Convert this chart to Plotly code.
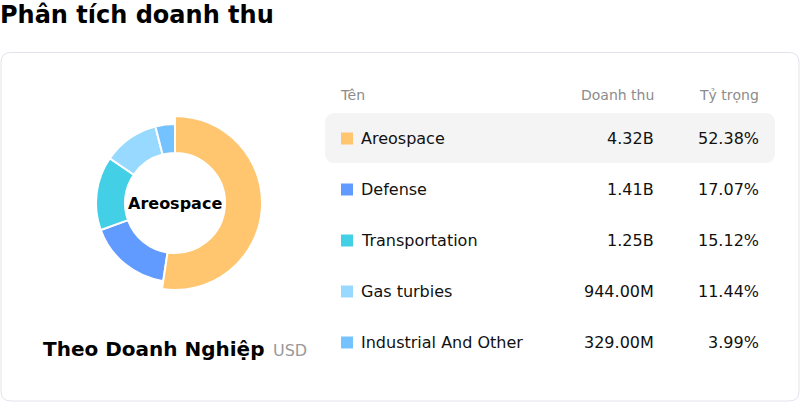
import plotly.graph_objects as go

W, H = 800, 402

# ---- data ----
categories = ["Areospace", "Defense", "Transportation", "Gas turbies", "Industrial And Other"]
revenue_labels = ["4.32B", "1.41B", "1.25B", "944.00M", "329.00M"]
shares = [52.38, 17.07, 15.12, 11.44, 3.99]
colors = ["#FFC56F", "#629BFF", "#43D0E6", "#98DAFF", "#74C2FF"]
header_labels = ["Tên", "Doanh thu", "Tỷ trọng"]
highlight_index = 0

FONT = "DejaVu Sans"

fig = go.Figure()

# donut geometry (pixels)
cx, cy = 175, 203
r_small, r_big, r_hole = 79, 87, 50


def domain(r):
    return dict(x=[(cx - r) / W, (cx + r) / W], y=[1 - (cy + r) / H, 1 - (cy - r) / H])


fig.add_trace(go.Pie(
    labels=categories, values=shares, sort=False, direction="clockwise", rotation=0,
    hole=r_hole / r_small, domain=domain(r_small),
    marker=dict(colors=colors, line=dict(color="white", width=2)),
    textinfo="none", hoverinfo="none", showlegend=False,
))
big_colors = [c if i == highlight_index else "rgba(0,0,0,0)" for i, c in enumerate(colors)]
big_lines = [2 if i == highlight_index else 0 for i in range(len(colors))]
fig.add_trace(go.Pie(
    labels=categories, values=shares, sort=False, direction="clockwise", rotation=0,
    hole=r_hole / r_big, domain=domain(r_big),
    marker=dict(colors=big_colors, line=dict(color="white", width=big_lines)),
    textinfo="none", hoverinfo="none", showlegend=False,
))


def rrect(x0, y0, x1, y1, r):
    return (f"M {x0+r},{y0} L {x1-r},{y0} Q {x1},{y0} {x1},{y0+r} "
            f"L {x1},{y1-r} Q {x1},{y1} {x1-r},{y1} L {x0+r},{y1} "
            f"Q {x0},{y1} {x0},{y1-r} L {x0},{y0+r} Q {x0},{y0} {x0+r},{y0} Z")


shapes = [
    dict(type="path", xref="x", yref="y", path=rrect(1, 52.5, 799, 401, 10),
         line=dict(color="#E2E2EC", width=1), fillcolor="white", layer="below"),
]

row_y0, row_step = 138, 51
hl_y = row_y0 + highlight_index * row_step
shapes.append(dict(type="path", xref="x", yref="y", path=rrect(325, hl_y - 25, 775, hl_y + 25, 10),
                   line=dict(width=0), fillcolor="#F4F4F4", layer="below"))

annotations = [
    dict(text="<b>Phân tích doanh thu</b>", x=0, y=15, xanchor="left", yanchor="middle",
         xshift=-2, font=dict(size=24, color="#000000")),
    dict(text=f"<b>{categories[highlight_index]}</b>", x=cx, y=cy, xanchor="center", yanchor="middle",
         font=dict(size=16, color="#000000")),
    dict(text="<b>Theo Doanh Nghiệp</b>", x=266, y=349, xanchor="right", yanchor="middle",
         font=dict(size=20, color="#000000")),
    dict(text="USD", x=271, y=350, xanchor="left", yanchor="middle",
         font=dict(size=16, color="#999999")),
    dict(text=header_labels[0], x=338, y=95, xanchor="left", yanchor="middle",
         font=dict(size=14, color="#8C8C8C")),
    dict(text=header_labels[1], x=656, y=95, xanchor="right", yanchor="middle",
         font=dict(size=14, color="#8C8C8C")),
    dict(text=header_labels[2], x=761, y=95, xanchor="right", yanchor="middle",
         font=dict(size=14, color="#8C8C8C")),
]

for i, (cat, rev, sh, col) in enumerate(zip(categories, revenue_labels, shares, colors)):
    y = row_y0 + i * row_step
    shapes.append(dict(type="rect", xref="x", yref="y", x0=341, x1=353, y0=y - 5.5, y1=y + 6.5,
                       fillcolor=col, line=dict(width=0)))
    annotations.append(dict(text=cat, x=359, y=y, xanchor="left", yanchor="middle",
                            font=dict(size=16, color="#111111")))
    annotations.append(dict(text=rev, x=656, y=y, xanchor="right", yanchor="middle",
                            font=dict(size=16, color="#111111")))
    annotations.append(dict(text=f"{sh:.2f}%", x=761, y=y, xanchor="right", yanchor="middle",
                            font=dict(size=16, color="#111111")))

for a in annotations:
    a.update(xref="x", yref="y", showarrow=False)

fig.update_layout(
    width=W, height=H, margin=dict(l=0, r=0, t=0, b=0),
    paper_bgcolor="white", plot_bgcolor="rgba(0,0,0,0)",
    font=dict(family=FONT),
    xaxis=dict(range=[0, W], visible=False, fixedrange=True, domain=[0, 1]),
    yaxis=dict(range=[H, 0], visible=False, fixedrange=True, domain=[0, 1]),
    shapes=shapes, annotations=annotations, showlegend=False,
)

fig.write_html("out.html", config={"displayModeBar": False},
               post_script="document.body.style.margin='0';document.body.style.overflow='hidden';")
